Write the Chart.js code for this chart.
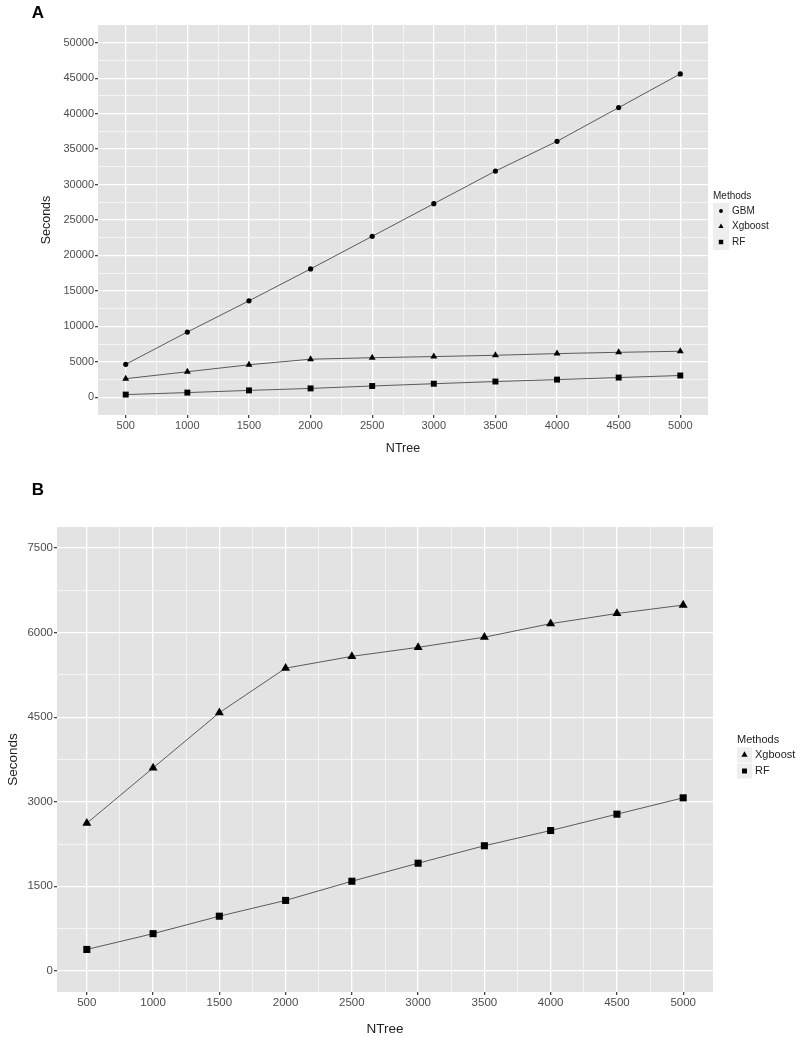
<!DOCTYPE html>
<html>
<head>
<meta charset="utf-8">
<script src="https://cdn.jsdelivr.net/npm/chart.js@4/dist/chart.umd.min.js"></script>
<style>
    body {margin: 0; background: #fff;}
    #wrap {position: relative; width: 799px; height: 1037px;}
    canvas {position: absolute; left: 0;}
</style>
</head>
<body>
<div id="wrap">
    <canvas id="chartA" width="799" height="470" style="top:0"></canvas>
    <canvas id="chartB" width="799" height="567" style="top:470px"></canvas>
</div>
<script>
// Training time (seconds) per number of trees
const ntree = [500, 1000, 1500, 2000, 2500, 3000, 3500, 4000, 4500, 5000];
const gbm = [4650, 9200, 13600, 18100, 22700, 27300, 31900, 36100, 40850, 45600];
const xgboost = [2620, 3600, 4580, 5370, 5580, 5740, 5920, 6160, 6340, 6490];
const rf = [380, 660, 970, 1250, 1590, 1910, 2220, 2490, 2780, 3070];

// Axis breaks (major labelled, minor halfway)
const xMajor = [500, 1000, 1500, 2000, 2500, 3000, 3500, 4000, 4500, 5000];
const xBreaks = [500, 750, 1000, 1250, 1500, 1750, 2000, 2250, 2500, 2750, 3000, 3250, 3500, 3750, 4000, 4250, 4500, 4750, 5000];
const yMajorA = [0, 5000, 10000, 15000, 20000, 25000, 30000, 35000, 40000, 45000, 50000];
const yBreaksA = [0, 2500, 5000, 7500, 10000, 12500, 15000, 17500, 20000, 22500, 25000, 27500, 30000, 32500, 35000, 37500, 40000, 42500, 45000, 47500, 50000];
const yMajorB = [0, 1500, 3000, 4500, 6000, 7500];
const yBreaksB = [0, 750, 1500, 2250, 3000, 3750, 4500, 5250, 6000, 6750, 7500];

const points = (ys) => ntree.map((x, i) => ({x: x, y: ys[i]}));

// grey panel behind the plot
const panelBg = {
    id: "panelBg",
    beforeDraw(chart) {
        const {ctx, chartArea: a} = chart;
        ctx.save();
        ctx.fillStyle = "#e3e3e3";
        ctx.fillRect(a.left, a.top, a.right - a.left, a.bottom - a.top);
        ctx.restore();
    },
};

// panel letter and ggplot-style legend
const extras = {
    id: "extras",
    afterDraw(chart, args, opts) {
        const ctx = chart.ctx;
        ctx.save();
        ctx.fillStyle = "#000";
        ctx.font = "bold 17px 'Liberation Sans', Arial, sans-serif";
        ctx.textAlign = "center";
        ctx.textBaseline = "middle";
        ctx.fillText(opts.letter, opts.letterX, opts.letterY);

        const lg = opts.legend;
        ctx.textAlign = "left";
        ctx.fillStyle = "#222";
        ctx.font = lg.titleSize + "px 'Liberation Sans', Arial, sans-serif";
        ctx.fillText("Methods", lg.x, lg.titleY);
        ctx.font = lg.size + "px 'Liberation Sans', Arial, sans-serif";
        chart.data.datasets.forEach((ds, i) => {
            const cy = lg.rowY + i * lg.rowH;
            ctx.fillStyle = "#eeeeee";
            ctx.fillRect(lg.x, cy - lg.key / 2, lg.key, lg.key);
            ctx.fillStyle = "#000";
            ctx.strokeStyle = "#000";
            Chart.helpers.drawPoint(ctx, {
                pointStyle: ds.pointStyle,
                radius: ds.pointRadius * lg.scale,
                rotation: 0,
                borderWidth: 0,
            }, lg.x + lg.key / 2, cy);
            ctx.fillStyle = "#222";
            ctx.fillText(ds.label, lg.x + lg.key + 3, cy);
        });
        ctx.restore();
    },
};

function series(label, ys, style, r) {
    return {
        label: label,
        data: points(ys),
        borderColor: "#5a5a5a",
        borderWidth: 1,
        pointStyle: style,
        pointRadius: r,
        pointBackgroundColor: "#000",
        pointBorderColor: "#000",
        pointBorderWidth: 0,
        fill: false,
        tension: 0,
    };
}

function makeChart(id, datasets, cfg) {
    const isMajorX = (v) => xMajor.includes(v);
    const isMajorY = (v) => cfg.yMajor.includes(v);
    return new Chart(document.getElementById(id), {
        type: "line",
        data: {datasets: datasets},
        plugins: [panelBg, extras],
        options: {
            responsive: false,
            animation: false,
            layout: {padding: cfg.padding},
            plugins: {
                legend: {display: false},
                tooltip: {enabled: false},
                extras: cfg.extras,
            },
            scales: {
                x: {
                    type: "linear",
                    min: 275,
                    max: 5225,
                    afterBuildTicks: (s) => { s.ticks = xBreaks.map((v) => ({value: v})); },
                    afterFit: (s) => { s.height = cfg.xHeight; },
                    border: {display: false},
                    grid: {
                        color: "#ffffff",
                        lineWidth: (c) => (isMajorX(c.tick.value) ? 1.3 : 0.6),
                        tickColor: (c) => (isMajorX(c.tick.value) ? "#444" : "rgba(0,0,0,0)"),
                        tickLength: 3,
                    },
                    ticks: {
                        autoSkip: false,
                        maxRotation: 0,
                        padding: 1,
                        color: "#4d4d4d",
                        font: {family: "'Liberation Sans', Arial, sans-serif", size: cfg.tickSize},
                        callback: (v) => (isMajorX(v) ? String(v) : ""),
                    },
                    title: {
                        display: true,
                        text: "NTree",
                        color: "#222",
                        font: {family: "'Liberation Sans', Arial, sans-serif", size: cfg.titleSize},
                        padding: {top: 0, bottom: cfg.xTitlePad},
                    },
                },
                y: {
                    min: cfg.yMin,
                    max: cfg.yMax,
                    afterBuildTicks: (s) => { s.ticks = cfg.yBreaks.map((v) => ({value: v})); },
                    afterFit: (s) => { s.width = cfg.yWidth; },
                    border: {display: false},
                    grid: {
                        color: "#ffffff",
                        lineWidth: (c) => (isMajorY(c.tick.value) ? 1.3 : 0.6),
                        tickColor: (c) => (isMajorY(c.tick.value) ? "#444" : "rgba(0,0,0,0)"),
                        tickLength: 3,
                    },
                    ticks: {
                        autoSkip: false,
                        padding: 1,
                        color: "#4d4d4d",
                        font: {family: "'Liberation Sans', Arial, sans-serif", size: cfg.tickSize},
                        callback: (v) => (isMajorY(v) ? String(v) : ""),
                    },
                    title: {
                        display: true,
                        text: "Seconds",
                        color: "#222",
                        font: {family: "'Liberation Sans', Arial, sans-serif", size: cfg.titleSize},
                        padding: {top: cfg.yTitlePad, bottom: 0},
                    },
                },
            },
        },
    });
}

makeChart("chartA", [
    series("GBM", gbm, "circle", 2.6),
    series("Xgboost", xgboost, "triangle", 4),
    series("RF", rf, "rect", 4.2),
], {
    padding: {top: 25, right: 91, bottom: 0, left: 0},
    xHeight: 55, yWidth: 98,
    yMin: -2500, yMax: 52500,
    yMajor: yMajorA, yBreaks: yBreaksA,
    tickSize: 11, titleSize: 12.5,
    xTitlePad: 14, yTitlePad: 39,
    extras: {
        letter: "A", letterX: 38, letterY: 13,
        legend: {x: 713, titleY: 196, rowY: 211, rowH: 15.5, key: 16, size: 10, titleSize: 10, scale: 0.75},
    },
});

makeChart("chartB", [
    series("Xgboost", xgboost, "triangle", 5.2),
    series("RF", rf, "rect", 5),
], {
    padding: {top: 57, right: 86, bottom: 0, left: 0},
    xHeight: 45, yWidth: 57,
    yMin: -375, yMax: 7875,
    yMajor: yMajorB, yBreaks: yBreaksB,
    tickSize: 11.5, titleSize: 13.5,
    xTitlePad: 0, yTitlePad: 5,
    extras: {
        letter: "B", letterX: 38, letterY: 20,
        legend: {x: 737, titleY: 270, rowY: 285, rowH: 16, key: 15, size: 11, titleSize: 11, scale: 0.7},
    },
});
</script>
</body>
</html>
